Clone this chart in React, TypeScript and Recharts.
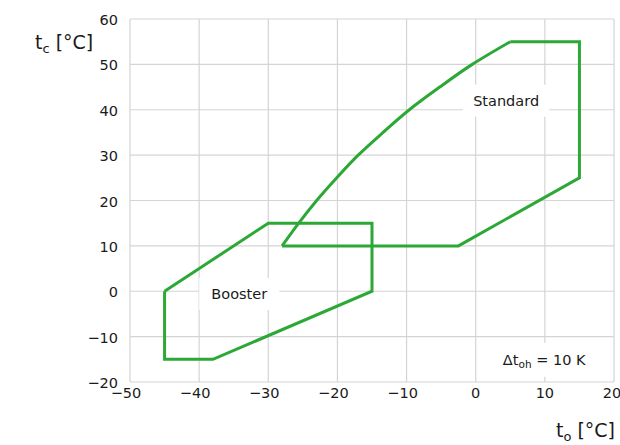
import React from "react";
import { LineChart, Line, XAxis, YAxis, CartesianGrid, ReferenceDot, Label } from "recharts";

// "Standard" envelope: curved upper-left edge, then the straight remainder
const curveTo = [-28, -25.6, -23, -20.1, -17, -13.4, -9.6, -5.2, -0.5, 5];
const curveTc = [10, 15, 20, 25, 30, 35, 40, 45, 50, 55];
const edgeTo = [5, 15, 15, -2.5, -28];
const edgeTc = [55, 55, 25, 10, 10];
// "Booster" envelope (first point repeated to close)
const boosterTo = [-45, -30, -15, -15, -38, -45, -45];
const boosterTc = [0, 15, 15, 0, -15, -15, 0];

const xTicks = [-50, -40, -30, -20, -10, 0, 10, 20];
const yTicks = [-20, -10, 0, 10, 20, 30, 40, 50, 60];

const curve = curveTo.map((x, i) => ({ x, y: curveTc[i] }));
const edge = edgeTo.map((x, i) => ({ x, y: edgeTc[i] }));
const booster = boosterTo.map((x, i) => ({ x, y: boosterTc[i] }));

const GREEN = "#2ca836";
const FONT = "DejaVu Sans";
const fmt = (v: number) => (v < 0 ? "\u2212" + Math.abs(v) : String(v));

const XTick = (props: any) => {
  const { x, y, payload } = props;
  const v = payload.value;
  return (
    <text x={x + (v < 0 ? -4 : 0)} y={y + 8} textAnchor="middle" fontFamily={FONT} fontSize={14.5} fill="#1a1a1a">
      {fmt(v)}
    </text>
  );
};

const YTick = (props: any) => {
  const { x, y, payload } = props;
  return (
    <text x={x - 4} y={y + 6} textAnchor="end" fontFamily={FONT} fontSize={14.5} fill="#1a1a1a">
      {fmt(payload.value)}
    </text>
  );
};

const boxLabel = (w: number, h: number, content: React.ReactNode) => (p: any) => (
  <g>
    <rect x={p.cx - w / 2} y={p.cy - h / 2} width={w} height={h} fill="#fff" />
    <text x={p.cx} y={p.cy + 5} textAnchor="middle" fontFamily={FONT} fontSize={14.5} fill="#1a1a1a">
      {content}
    </text>
  </g>
);

const lineProps = { dataKey: "y", stroke: GREEN, strokeWidth: 3, dot: false, isAnimationActive: false } as const;

export default function App() {
  return (
    <div style={{ position: "absolute", left: 0, top: 0 }}>
      <LineChart width={620} height={445} margin={{ top: 19, right: 6, left: 90, bottom: 33 }}>
        <CartesianGrid stroke="#d4d4d4" strokeWidth={1.2} />
        <XAxis
          type="number"
          dataKey="x"
          domain={[-50, 20]}
          ticks={xTicks}
          axisLine={false}
          tickLine={false}
          height={30}
          tick={<XTick />}
        >
          <Label
            content={() => (
              <text x={615} y={437} textAnchor="end" fontFamily={FONT} fontSize={19} fill="#1a1a1a">
                t<tspan fontSize={13} dy={4}>o</tspan>
                <tspan dy={-4}> [°C]</tspan>
              </text>
            )}
          />
        </XAxis>
        <YAxis
          type="number"
          dataKey="y"
          domain={[-20, 60]}
          ticks={yTicks}
          axisLine={false}
          tickLine={false}
          width={40}
          tick={<YTick />}
        >
          <Label
            content={() => (
              <text x={35} y={49} fontFamily={FONT} fontSize={19} fill="#1a1a1a">
                t<tspan fontSize={13} dy={4}>c</tspan>
                <tspan dy={-4}> [°C]</tspan>
              </text>
            )}
          />
        </YAxis>
        <ReferenceDot x={4.4} y={42} r={0} shape={boxLabel(86, 32, "Standard")} />
        <ReferenceDot x={-34.2} y={-0.6} r={0} shape={boxLabel(80, 32, "Booster")} />
        <ReferenceDot
          x={9.9}
          y={-15.1}
          r={0}
          shape={boxLabel(
            92,
            34,
            <>
              Δt<tspan fontSize={10.5} dy={3}>oh</tspan>
              <tspan dy={-3}> = 10 K</tspan>
            </>
          )}
        />
        <Line data={curve} type="natural" {...lineProps} />
        <Line data={edge} type="linear" {...lineProps} />
        <Line data={booster} type="linear" {...lineProps} />
      </LineChart>
    </div>
  );
}
